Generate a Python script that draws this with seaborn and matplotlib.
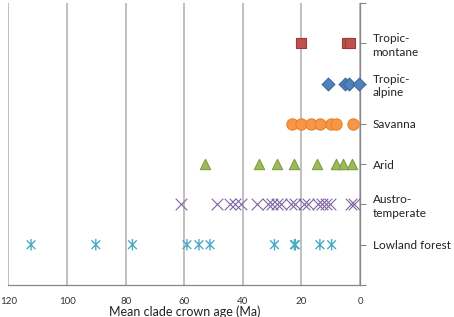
import numpy as np
import pandas as pd
import matplotlib
matplotlib.use("Agg")
import matplotlib.pyplot as plt
from matplotlib.path import Path
import seaborn as sns

# mean clade crown ages (Ma) per biome
tropic_montane = [20.2, 4.6, 3.4]
tropic_alpine = [11.0, 5.0, 3.7, 0.4]
savanna = [23.3, 20.1, 16.8, 13.8, 10.0, 8.3, 2.5]
arid = [53.0, 34.6, 28.2, 22.5, 14.8, 8.2, 5.9, 2.8]
austro_temperate = [61.2, 48.9, 44.4, 42.6, 40.6, 35.0, 31.4, 29.9, 28.5, 26.9,
                    23.7, 22.1, 19.2, 17.6, 14.3, 13.0, 11.6, 10.3, 3.2, 1.9]
lowland_forest = [112.3, 90.2, 77.7, 59.1, 55.0, 51.2, 29.2, 22.4, 22.1, 13.7, 9.7]

labels = ["Tropic-\nmontane", "Tropic-\nalpine", "Savanna", "Arid",
          "Austro-\ntemperate", "Lowland forest"]
series = [tropic_montane, tropic_alpine, savanna, arid, austro_temperate, lowland_forest]
rows = [6, 5, 4, 3, 2, 1]

# excel-style asterisk: X with a vertical bar
star = Path([(0, -1), (0, 1), (-0.75, -0.75), (0.75, 0.75), (-0.75, 0.75), (0.75, -0.75)],
            [Path.MOVETO, Path.LINETO] * 3)

styles = [
    dict(marker="s", s=55, color="#C0504D", edgecolor="#9A3B38", linewidth=0.8),
    dict(marker="D", s=42, color="#4F81BD", edgecolor="#3B679C", linewidth=0.8),
    dict(marker="o", s=66, color="#F79646", edgecolor="#E8822E", linewidth=0.8),
    dict(marker="^", s=55, color="#9BBB59", edgecolor="#7F9C43", linewidth=0.8),
    dict(marker="x", s=70, color="#8064A2", linewidth=0.8),
    dict(marker=star, s=70, facecolor="none", edgecolor="#4BACC6", linewidth=1.0),
]

df = pd.concat([pd.DataFrame({"age": vals, "row": r, "habitat": lab})
                for vals, r, lab in zip(series, rows, labels)], ignore_index=True)

sns.set_style("white")
plt.rcParams["font.family"] = ["Lato", "DejaVu Sans"]

fig = plt.figure(figsize=(4.54, 3.17), dpi=100)
ax = fig.add_axes([0.0187, 0.101, 0.7743, 0.8895])

for lab, st in zip(labels, styles):
    sub = df[df["habitat"] == lab]
    sns.scatterplot(data=sub, x="age", y="row", ax=ax, legend=False, zorder=3,
                    clip_on=False, **st)

ax.set_xlim(120, 0)
ax.set_ylim(0, 7)
ax.set_xticks(np.arange(0, 121, 20))
ax.tick_params(axis="x", labelsize=7, colors="#333333", length=4, width=0.8,
               color="#868686", direction="out", pad=5)
ax.grid(axis="x", color="#BFBFBF", linewidth=1.4)
ax.grid(axis="y", visible=False)

ax.yaxis.tick_right()
ax.set_yticks(range(0, 8))
ax.set_yticklabels([""] + labels[::-1] + [""], linespacing=1.3)
ax.tick_params(axis="y", labelsize=8.5, length=4, width=0.8, color="#868686",
               direction="out", pad=5, labelcolor="#222222")

for side in ["top", "left"]:
    ax.spines[side].set_visible(False)
for side in ["right", "bottom"]:
    ax.spines[side].set_color("#868686")
    ax.spines[side].set_linewidth(0.9)

ax.set_xlabel("Mean clade crown age (Ma)", fontsize=9, color="#222222", labelpad=-1)
ax.set_ylabel("")

fig.savefig("out.png", dpi=100)
